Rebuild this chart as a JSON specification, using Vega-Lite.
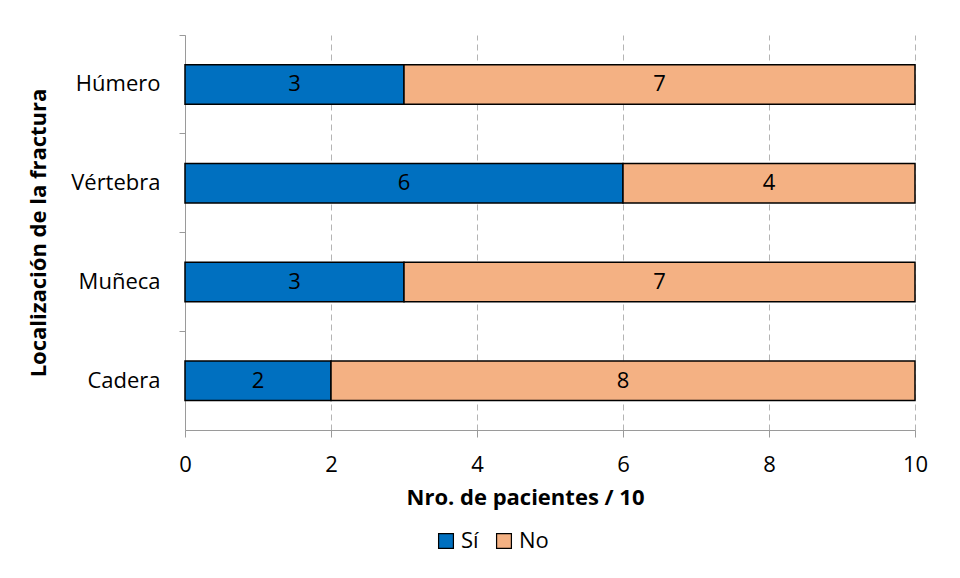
{
  "$schema": "https://vega.github.io/schema/vega-lite/v6.json",
  "width": 730,
  "height": 395,
  "autosize": {"type": "none"},
  "padding": {"left": 185, "top": 35, "right": 45, "bottom": 148},
  "background": "white",
  "config": {
    "font": "Open Sans",
    "view": {"stroke": null},
    "axis": {"labelFont": "Open Sans", "titleFont": "Open Sans", "labelColor": "#000000", "titleColor": "#000000"}
  },
  "data": {
    "values": [
      {"localizacion": "Húmero", "respuesta": "Sí", "orden": 1, "pacientes": 3},
      {"localizacion": "Húmero", "respuesta": "No", "orden": 2, "pacientes": 7},
      {"localizacion": "Vértebra", "respuesta": "Sí", "orden": 1, "pacientes": 6},
      {"localizacion": "Vértebra", "respuesta": "No", "orden": 2, "pacientes": 4},
      {"localizacion": "Muñeca", "respuesta": "Sí", "orden": 1, "pacientes": 3},
      {"localizacion": "Muñeca", "respuesta": "No", "orden": 2, "pacientes": 7},
      {"localizacion": "Cadera", "respuesta": "Sí", "orden": 1, "pacientes": 2},
      {"localizacion": "Cadera", "respuesta": "No", "orden": 2, "pacientes": 8}
    ]
  },
  "transform": [
    {"stack": "pacientes", "groupby": ["localizacion"], "sort": [{"field": "orden"}], "as": ["inicio", "fin"]},
    {"calculate": "(datum.inicio + datum.fin) / 2", "as": "centro"}
  ],
  "encoding": {
    "y": {
      "field": "localizacion",
      "type": "nominal",
      "sort": ["Húmero", "Vértebra", "Muñeca", "Cadera"],
      "scale": {"paddingInner": 0.6, "paddingOuter": 0.3},
      "axis": {
        "title": "Localización de la fractura",
        "titleFontSize": 22,
        "titleFontWeight": "bold",
        "titlePadding": 20,
        "labelFontSize": 22,
        "labelPadding": 19,
        "domainColor": "#9a9a9a",
        "domainWidth": 1,
        "tickColor": "#9a9a9a",
        "tickSize": 6,
        "bandPosition": -0.75
      }
    }
  },
  "layer": [
    {
      "mark": {"type": "bar", "stroke": "#000000", "strokeWidth": 1.5},
      "encoding": {
        "x": {
          "field": "inicio",
          "type": "quantitative",
          "scale": {"domain": [0, 10], "nice": false},
          "axis": {
            "title": "Nro. de pacientes / 10",
            "titleFontSize": 22,
            "titleFontWeight": "bold",
            "titlePadding": 12,
            "titleX": 340,
            "titleAlign": "center",
            "values": [0, 2, 4, 6, 8, 10],
            "format": "d",
            "labelFontSize": 22,
            "labelPadding": 17,
            "labelFlush": false,
            "domainColor": "#9a9a9a",
            "tickColor": "#9a9a9a",
            "tickSize": 7,
            "grid": true,
            "gridColor": "#b4b4b4",
            "gridDash": [6, 4],
            "gridWidth": 1
          }
        },
        "x2": {"field": "fin"},
        "color": {
          "field": "respuesta",
          "type": "nominal",
          "sort": ["Sí", "No"],
          "scale": {"domain": ["Sí", "No"], "range": ["#0070C0", "#F4B183"]},
          "legend": {
            "title": null,
            "orient": "none",
            "direction": "horizontal",
            "legendX": 250,
            "legendY": 495,
            "symbolType": "square",
            "symbolSize": 220,
            "symbolStrokeColor": "#000000",
            "symbolStrokeWidth": 1.2,
            "labelFontSize": 22,
            "labelFont": "Open Sans",
            "labelColor": "#000000",
            "columnPadding": 14,
            "labelOffset": 4
          }
        },
        "order": {"field": "orden"}
      }
    },
    {
      "mark": {"type": "text", "fontSize": 22, "color": "#000000", "baseline": "middle"},
      "encoding": {
        "x": {"field": "centro", "type": "quantitative"},
        "text": {"field": "pacientes", "type": "quantitative"}
      }
    }
  ]
}
